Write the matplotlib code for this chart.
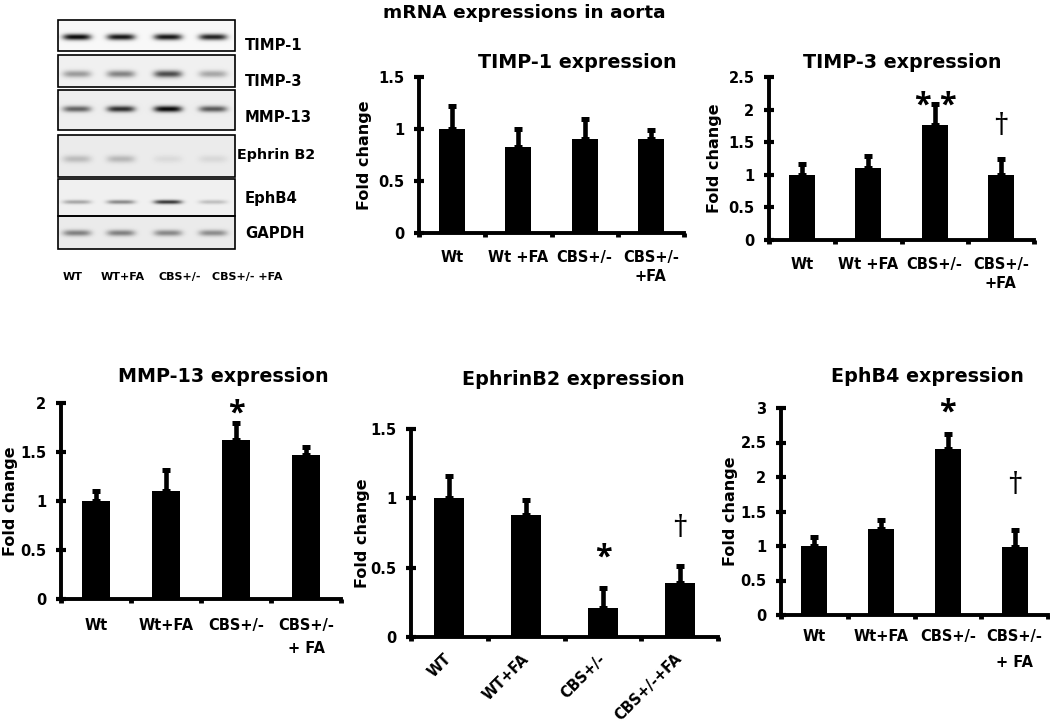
import numpy as np
import matplotlib.pyplot as plt

plt.rcParams['font.family'] = ['DejaVu Sans']
plt.rcParams['font.weight'] = 'bold'
plt.rcParams['axes.labelweight'] = 'bold'

# bar chart data (fold change, mean and upper error)
timp1_mean = [1.0, 0.83, 0.90, 0.90]
timp1_err = [0.22, 0.17, 0.20, 0.09]
timp3_mean = [1.0, 1.11, 1.76, 1.0]
timp3_err = [0.16, 0.18, 0.32, 0.24]
mmp13_mean = [1.0, 1.10, 1.625, 1.465]
mmp13_err = [0.10, 0.22, 0.17, 0.09]
ephrinb2_mean = [1.0, 0.88, 0.21, 0.39]
ephrinb2_err = [0.16, 0.11, 0.14, 0.12]
ephb4_mean = [1.0, 1.25, 2.40, 0.98]
ephb4_err = [0.13, 0.12, 0.23, 0.25]

labels_top = ['Wt', 'Wt +FA', 'CBS+/-', 'CBS+/-\n+FA']
labels_mmp = ['Wt', 'Wt+FA', 'CBS+/-', 'CBS+/-\n+ FA']
labels_eph = ['WT', 'WT+FA', 'CBS+/-', 'CBS+/-+FA']

# gel band darkness (0 = none, 1 = black), one row per gene, lanes in order
gel_genes = ['TIMP-1', 'TIMP-3', 'MMP-13', 'Ephrin B2', 'EphB4', 'GAPDH']
gel_bands = [
    [0.95, 0.90, 0.90, 0.85],
    [0.35, 0.45, 0.68, 0.30],
    [0.58, 0.80, 0.97, 0.62],
    [0.20, 0.22, 0.07, 0.08],
    [0.30, 0.42, 0.75, 0.20],
    [0.45, 0.45, 0.42, 0.40],
]
gel_lanes = ['WT', 'WT+FA', 'CBS+/-', 'CBS+/- +FA']

W, H = 1050, 726
fig = plt.figure(figsize=(W / 100, H / 100), dpi=100)

mark_font = ['Open Sans', 'DejaVu Sans']


def px_axes(x0, x1, ytop, ybot):
    return fig.add_axes([x0 / W, 1 - ybot / H, (x1 - x0) / W, (ybot - ytop) / H])


def bar_panel(rect, mean, err, ymax, step, title, xlabels, title_xy,
              ylabel_x, rotate=False, linesp=1.0, xpad=12):
    ax = px_axes(*rect)
    x = np.arange(len(mean)) + 0.5
    ax.bar(x, mean, width=0.39, color='black')
    ax.errorbar(x, mean, yerr=[np.zeros(len(err)), err], fmt='none',
                ecolor='black', elinewidth=3.3, capsize=2.8, capthick=3.6)
    ax.set_xlim(0, len(mean))
    ax.set_ylim(0, ymax)
    yt = np.arange(0, ymax + 0.001, step)
    ax.set_yticks(yt, ['%g' % v for v in yt])
    ax.set_xticks(np.arange(len(mean) + 1), [''] * (len(mean) + 1))
    ax.set_xticks(x, xlabels, minor=True)
    ax.tick_params(axis='x', which='major', direction='out', length=3,
                   width=3.5)
    ax.tick_params(axis='x', which='minor', length=0, pad=xpad,
                   labelsize=10.5)
    ax.tick_params(axis='y', direction='inout', length=7, width=3,
                   labelsize=10.5, pad=7)
    for lab in ax.get_xticklabels(minor=True):
        lab.set_linespacing(linesp)
        if rotate:
            lab.set_rotation(45)
            lab.set_ha('right')
            lab.set_va('center')
            lab.set_rotation_mode('anchor')
    for s in ['top', 'right']:
        ax.spines[s].set_visible(False)
    for s in ['left', 'bottom']:
        ax.spines[s].set_linewidth(2.8)
        ax.spines[s].set_capstyle('projecting')
    ax.set_ylabel('Fold change', fontsize=11.5)
    ax.yaxis.set_label_coords((ylabel_x + 9 - rect[0]) / (rect[1] - rect[0]),
                              0.5)
    fig.text(title_xy[0] / W, 1 - title_xy[1] / H, title, fontsize=13.8,
             ha='center', va='center')
    return ax


def mark(ax, xv, yv, s, size):
    ax.text(xv, yv, s, fontsize=size, ha='center', va='center',
            family=mark_font, fontweight='normal' if s == '\u2020' else 'bold',
            clip_on=False)


ax1 = bar_panel((419, 684, 77, 233), timp1_mean, timp1_err, 1.5, 0.5,
                'TIMP-1 expression', labels_top, (577, 62), 363, linesp=1.35)
ax2 = bar_panel((769, 1034, 77, 240), timp3_mean, timp3_err, 2.5, 0.5,
                'TIMP-3 expression', labels_top, (902, 62), 713, linesp=1.35)
# the two stars sit either side of the error bar
mark(ax2, 2.5 - 0.19, 2.06, '*', 22)
mark(ax2, 2.5 + 0.19, 2.06, '*', 22)
mark(ax2, 3.5, 1.74, '\u2020', 22)

ax3 = bar_panel((61, 341, 403, 599), mmp13_mean, mmp13_err, 2, 0.5,
                'MMP-13 expression', labels_mmp, (223, 377), 9, linesp=1.65,
                xpad=14)
mark(ax3, 2.5, 1.89, '*', 22)

ax4 = bar_panel((411, 718, 429, 637), ephrinb2_mean, ephrinb2_err, 1.5, 0.5,
                'EphrinB2 expression', labels_eph, (573, 380), 361,
                rotate=True, xpad=14)
mark(ax4, 2.5, 0.57, '*', 22)
mark(ax4, 3.5, 0.78, '\u2020', 22)

ax5 = bar_panel((781, 1048, 408, 615), ephb4_mean, ephb4_err, 3, 0.5,
                'EphB4 expression', labels_mmp, (927, 377), 729, linesp=1.95,
                xpad=10)
mark(ax5, 2.5, 2.94, '*', 22)
mark(ax5, 3.5, 1.87, '\u2020', 22)

fig.text(524 / W, 1 - 13 / H, 'mRNA expressions in aorta', fontsize=13.3,
         ha='center', va='center')

# gel image panel, drawn in pixel coordinates
pix = fig.add_axes([0, 0, 1, 1])
pix.patch.set_visible(False)
pix.axis('off')

gel_x0, gel_x1 = 58, 235
row_edges = [(20, 51), (55, 87), (90, 130), (135, 177), (179, 216), (216, 249)]
band_y = [37, 74, 109, 159, 202, 233]
band_sig = [2.2, 2.5, 2.2, 2.6, 1.5, 2.2]
row_bg = [0.97, 0.94, 0.93, 0.92, 0.94, 0.92]
lane_x = [77, 121, 168, 213]
label_y = [45, 82, 118, 155, 198, 233]

for i, (ya, yb) in enumerate(row_edges):
    xs = np.arange(gel_x0, gel_x1) + 0.5
    ys = np.arange(ya, yb) + 0.5
    img = np.full((len(ys), len(xs)), row_bg[i])
    for j, lx in enumerate(lane_x):
        fx = np.exp(-((xs - lx) / 14.0) ** 4)
        fy = np.exp(-0.5 * ((ys - band_y[i]) / band_sig[i]) ** 2)
        img -= gel_bands[i][j] * row_bg[i] * np.outer(fy, fx)
    pix.imshow(np.clip(img, 0, 1), cmap='gray', vmin=0, vmax=1,
               extent=(gel_x0, gel_x1, yb, ya), aspect='auto',
               interpolation='bilinear')
    pix.add_patch(plt.Rectangle((gel_x0, ya), gel_x1 - gel_x0, yb - ya,
                                fill=False, edgecolor='black', lw=1.2))
    fs = 10.3 if gel_genes[i] == 'Ephrin B2' else 10.7
    lx0 = 237 if gel_genes[i] == 'Ephrin B2' else 245
    pix.text(lx0, label_y[i], gel_genes[i], fontsize=fs, ha='left',
             va='center')

lane_lab_x = [73, 123, 180, 247]
for name, lx in zip(gel_lanes, lane_lab_x):
    pix.text(lx, 277, name, fontsize=8, ha='center', va='center')

pix.set_xlim(0, W)
pix.set_ylim(H, 0)

fig.savefig('out.png', dpi=100)
